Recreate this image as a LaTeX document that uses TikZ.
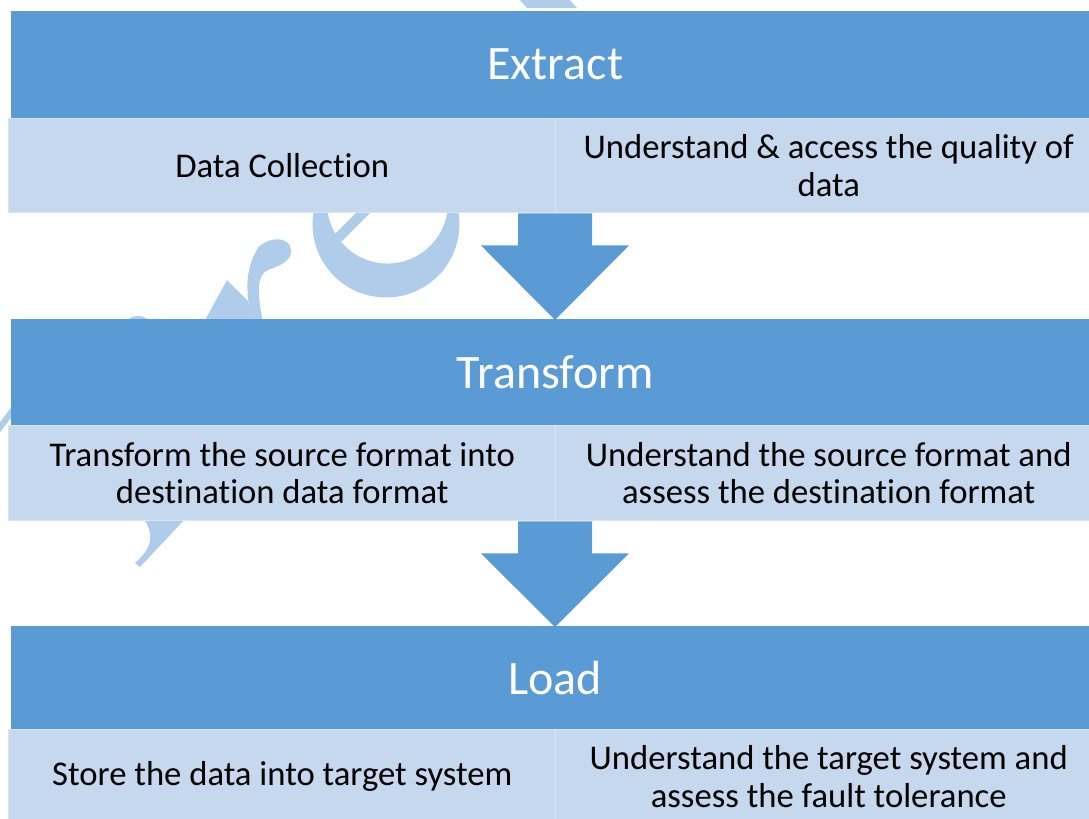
\documentclass[tikz,border=0pt]{standalone}
\usepackage{fontspec}
\setmainfont{Carlito}[RawFeature={-liga;-clig;-calt}]
\usetikzlibrary{calc}
\definecolor{hdr}{HTML}{5B9BD5}
\definecolor{cell}{HTML}{C5D8ED}
\definecolor{cellline}{HTML}{D9E5F3}
\definecolor{wmcol}{HTML}{AFCDEA}
% block arrow from the bottom of a cell row (#1) down to the next header (#2)
\newcommand\flowarrow[2]{%
  \fill[flow] ($(#1)+(-37,0)$) -- ($(#1)+(37,0)$) -- ($(#1)+(37,32)$)
    -- ($(#1)+(74,32)$) -- ($(#1 |- #2.north)+(0,1)$)
    -- ($(#1)+(-74,32)$) -- ($(#1)+(-37,32)$) -- cycle;}
\begin{document}
\begin{tikzpicture}[x=0.75pt,y=-0.75pt,
  hdrbox/.style={fill=hdr, text=white, inner sep=0pt, anchor=north west,
    minimum width=816pt, font=\fontsize{36}{43}\selectfont},
  cellbox/.style={fill=cell, draw=cellline, line width=1.1pt, inner sep=0pt,
    anchor=north west, align=center, text=black,
    font=\fontsize{26}{28.2}\selectfont},
  wmark/.style={fill=wmcol},
  wline/.style={draw=wmcol},
  flow/.style={fill=hdr}]
\useasboundingbox (0,0) rectangle (1089,818);

% faint logo in the background
\fill[wmark] (518,-2) -- (527,8) -- (577,8) -- (568,-2) -- cycle;
\fill[wmark, even odd rule] (386,224) circle[radius=55.1pt]
  (387.5,203) circle[radius=45.4pt];
\draw[wline, line width=7.5pt] (338,238) -- (392,184);
\fill[wmark] (252,322) .. controls (246,295) and (244,270) .. (258,248)
  .. controls (268,236) and (290,236) .. (291,250)
  .. controls (292,262) and (278,266) .. (268,270)
  .. controls (258,274) and (256,290) .. (263,322) -- cycle;
\fill[wmark] (227,280) -- (248,301) -- (252,322) -- (204,322) -- cycle;
\fill[wmark] (138,332) circle[radius=12pt];
\draw[wline, line width=4.5pt] (-5,434) -- (22,398);
\fill[wmark] (143,518) .. controls (152,530) and (156,545) .. (135,563)
  -- (140,567) -- (186,518) -- cycle;

% Extract
\node[hdrbox, minimum height=80.25pt] (ehd) at (11,11) {Extract};
\node[cellbox, minimum width=410.25pt, minimum height=70.5pt] (el) at (8,118)
  {Data Collection};
\node[cellbox, minimum width=409.5pt, minimum height=70.5pt] (er) at (555,118)
  {Understand \& access the quality of\\data};

% Transform
\node[hdrbox, minimum height=79.5pt] (thd) at (11,319) {Transform};
\node[cellbox, minimum width=410.25pt, minimum height=71.25pt] (tl) at (8,425)
  {Transform the source format into\\destination data format};
\node[cellbox, minimum width=409.5pt, minimum height=71.25pt] (tr) at (555,425)
  {Understand the source format and\\assess the destination format};

% Load
\node[hdrbox, minimum height=77.25pt] (lhd) at (11,626) {Load};
\node[cellbox, minimum width=410.25pt, minimum height=70.5pt] (ll) at (8,729)
  {Store the data into target system};
\node[cellbox, minimum width=409.5pt, minimum height=70.5pt] (lr) at (555,729)
  {Understand the target system and\\assess the fault tolerance};

% arrows between the stages
\flowarrow{er.south west}{thd}
\flowarrow{tr.south west}{lhd}
\end{tikzpicture}
\end{document}
